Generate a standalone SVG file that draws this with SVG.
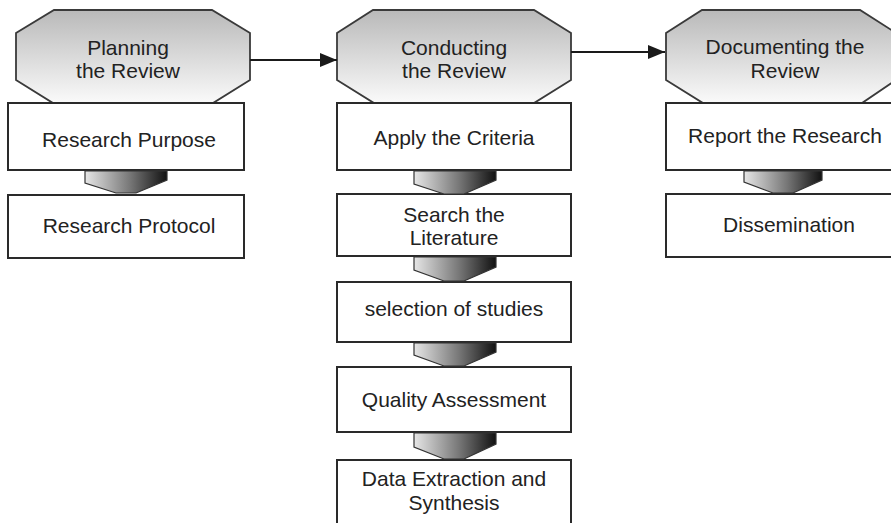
<svg xmlns="http://www.w3.org/2000/svg" width="891" height="523" viewBox="0 0 891 523">
  <defs>
    <linearGradient id="octFill" x1="0" y1="0" x2="0" y2="1">
      <stop offset="0" stop-color="#b9b9b9"/>
      <stop offset="1" stop-color="#fafafa"/>
    </linearGradient>
    <linearGradient id="stepFill" x1="0" y1="0" x2="1" y2="0">
      <stop offset="0" stop-color="#e6e6e6"/>
      <stop offset="0.55" stop-color="#777"/>
      <stop offset="1" stop-color="#111"/>
    </linearGradient>
    <marker id="arrowHead" markerUnits="userSpaceOnUse" markerWidth="18" markerHeight="16" refX="17" refY="7" orient="auto">
      <path d="M0,0 L17,7 L0,14 Z" fill="#1a1a1a"/>
    </marker>
  </defs>
  <style>
    .oct { fill: url(#octFill); stroke: #3a3a3a; stroke-width: 1.8; }
    .box { fill: #ffffff; stroke: #2a2a2a; stroke-width: 2; }
    .step { fill: url(#stepFill); stroke: #333; stroke-width: 1.2; }
    .lbl { font-family: "Liberation Sans", Arial, sans-serif; font-size: 21px; fill: #222; text-anchor: middle; }
    .flow { stroke: #1a1a1a; stroke-width: 2; fill: none; }
  </style>
  <rect width="891" height="523" fill="#ffffff"/>

  <!-- phase headers -->
  <g id="planning">
    <polygon class="oct" points="54,10 212,10 250,33 250,80 213,103 53,103 16,80 16,33"/>
    <text class="lbl" x="128" y="55">Planning</text>
    <text class="lbl" x="128" y="78">the Review</text>
  </g>
  <g id="conducting">
    <polygon class="oct" points="373,10 534,10 571,33 571,80 534,103 374,103 337,80 337,33"/>
    <text class="lbl" x="454" y="55">Conducting</text>
    <text class="lbl" x="454" y="78">the Review</text>
  </g>
  <g id="documenting">
    <polygon class="oct" points="702,10 860,10 896,33 896,80 862,103 703,103 666,80 666,33"/>
    <text class="lbl" x="785" y="54">Documenting the</text>
    <text class="lbl" x="785" y="78">Review</text>
  </g>

  <!-- step boxes: planning -->
  <g id="research-purpose">
    <rect class="box" x="8" y="103" width="236" height="67"/>
    <text class="lbl" x="129" y="147">Research Purpose</text>
  </g>
  <g id="research-protocol">
    <rect class="box" x="8" y="195" width="236" height="63"/>
    <text class="lbl" x="129" y="233">Research Protocol</text>
  </g>

  <!-- step boxes: conducting -->
  <g id="apply-criteria">
    <rect class="box" x="337" y="103" width="234" height="67"/>
    <text class="lbl" x="454" y="145">Apply the Criteria</text>
  </g>
  <g id="search-literature">
    <rect class="box" x="337" y="194" width="234" height="62"/>
    <text class="lbl" x="454" y="222">Search the</text>
    <text class="lbl" x="454" y="245">Literature</text>
  </g>
  <g id="selection-studies">
    <rect class="box" x="337" y="282" width="234" height="60"/>
    <text class="lbl" x="454" y="316">selection of studies</text>
  </g>
  <g id="quality-assessment">
    <rect class="box" x="337" y="367" width="234" height="65"/>
    <text class="lbl" x="454" y="407">Quality Assessment</text>
  </g>
  <g id="data-extraction">
    <rect class="box" x="337" y="460" width="234" height="80"/>
    <text class="lbl" x="454" y="486">Data Extraction and</text>
    <text class="lbl" x="454" y="510">Synthesis</text>
  </g>

  <!-- step boxes: documenting -->
  <g id="report-research">
    <rect class="box" x="666" y="103" width="240" height="67"/>
    <text class="lbl" x="785" y="143">Report the Research</text>
  </g>
  <g id="dissemination">
    <rect class="box" x="666" y="194" width="240" height="63"/>
    <text class="lbl" x="789" y="232">Dissemination</text>
  </g>

  <!-- connectors -->
  <g id="connectors">
    <line class="flow" x1="250" y1="60" x2="337" y2="60" marker-end="url(#arrowHead)"/>
    <line class="flow" x1="571" y1="52" x2="665" y2="52" marker-end="url(#arrowHead)"/>

    <path class="step" d="M85,171 L167,171 L167,180 L136,193 L116,193 L85,183 Z"/>

    <path class="step" d="M414,171 L496,171 L496,180 L464,194 L444,194 L414,184 Z"/>
    <path class="step" d="M414,257 L496,257 L496,267 L464,281 L444,281 L414,270 Z"/>
    <path class="step" d="M414,343 L496,343 L496,352 L464,366 L444,366 L414,355 Z"/>
    <path class="step" d="M414,433 L496,433 L496,444 L464,459 L444,459 L414,447 Z"/>

    <path class="step" d="M744,171 L822,171 L822,180 L793,193 L773,193 L744,182 Z"/>
  </g>
</svg>
